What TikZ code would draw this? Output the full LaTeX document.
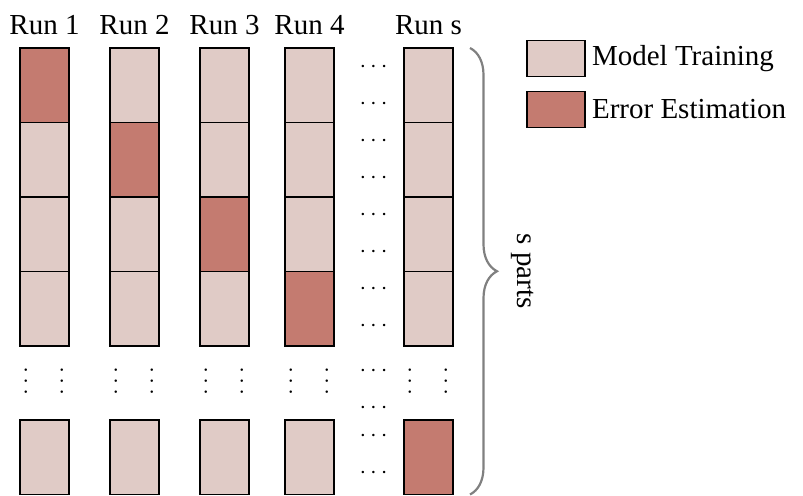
\documentclass[tikz,border=0pt]{standalone}
\usepackage{fontspec}
\setmainfont{Liberation Serif}
\usetikzlibrary{positioning, calc, decorations.pathreplacing}

\definecolor{trainred}{RGB}{224,203,198}
\definecolor{errred}{RGB}{196,123,112}

\begin{document}
\begin{tikzpicture}[
    x=0.5pt, y=0.5pt,
    font=\fontsize{14.5}{17}\selectfont,
    part/.style={draw, line width=0.9pt, fill=trainred,
                 outer sep=0pt, inner sep=0pt,
                 minimum width=24.5pt, minimum height=37.25pt},
    errpart/.style={part, fill=errred},
    key/.style={draw, line width=0.9pt, outer sep=0pt,
                minimum width=29pt, minimum height=18pt},
    hdots/.style={inner sep=0pt, font=\fontsize{12.5}{12.5}\selectfont},
    vdots/.style={hdots, rotate=90},
    sbrace/.style={decorate, decoration={brace, amplitude=13.5pt},
                   draw=black!50, line width=1.1pt}
]
\useasboundingbox (0,0) rectangle (803,495);

%---------------- Run 1 ----------------
\node[errpart] (p11) at (44.5,409.75) {};
\node[part, below=0pt of p11] (p12) {};
\node[part, below=0pt of p12] (p13) {};
\node[part, below=0pt of p13] (p14) {};
\node[part, below=37pt of p14] (p1s) {};
\node[above=3pt of p11] (run1) {Run 1};

%---------------- Run 2 ----------------
\node[part, right=20.5pt of p11] (p21) {};
\node[errpart, below=0pt of p21] (p22) {};
\node[part, below=0pt of p22] (p23) {};
\node[part, below=0pt of p23] (p24) {};
\node[part, below=37pt of p24] (p2s) {};
\node[above=3pt of p21] (run2) {Run 2};

%---------------- Run 3 ----------------
\node[part, right=20.5pt of p21] (p31) {};
\node[part, below=0pt of p31] (p32) {};
\node[errpart, below=0pt of p32] (p33) {};
\node[part, below=0pt of p33] (p34) {};
\node[part, below=37pt of p34] (p3s) {};
\node[above=3pt of p31] (run3) {Run 3};

%---------------- Run 4 ----------------
\node[part, right=18pt of p31] (p41) {};
\node[part, below=0pt of p41] (p42) {};
\node[part, below=0pt of p42] (p43) {};
\node[errpart, below=0pt of p43] (p44) {};
\node[part, below=37pt of p44] (p4s) {};
\node[above=3pt of p41] (run4) {Run 4};

%---------------- Run s ----------------
\node[part, right=35pt of p41] (ps1) {};
\node[part, below=0pt of ps1] (ps2) {};
\node[part, below=0pt of ps2] (ps3) {};
\node[part, below=0pt of ps3] (ps4) {};
\node[errpart, below=37pt of ps4] (pss) {};
\node[above=3pt of ps1] (runs) {Run s};

%---------------- skipped parts and runs ----------------
\node[vdots] (v1a) at (26.5,114) {$\cdots$};  \node[vdots] (v1b) at (62.5,114) {$\cdots$};
\node[vdots] (v2a) at (116.5,114) {$\cdots$}; \node[vdots] (v2b) at (152.5,114) {$\cdots$};
\node[vdots] (v3a) at (206.5,114) {$\cdots$}; \node[vdots] (v3b) at (242.5,114) {$\cdots$};
\node[vdots] (v4a) at (291.5,114) {$\cdots$}; \node[vdots] (v4b) at (327.5,114) {$\cdots$};
\node[vdots] (vsa) at (410.5,114) {$\cdots$}; \node[vdots] (vsb) at (446.5,114) {$\cdots$};

\node[hdots] (h1) at (373.5,428) {$\cdots$};  \node[hdots] (h2) at (373.5,391) {$\cdots$};
\node[hdots] (h3) at (373.5,354) {$\cdots$};  \node[hdots] (h4) at (373.5,317) {$\cdots$};
\node[hdots] (h5) at (373.5,280) {$\cdots$};  \node[hdots] (h6) at (373.5,243) {$\cdots$};
\node[hdots] (h7) at (373.5,206) {$\cdots$};  \node[hdots] (h8) at (373.5,169) {$\cdots$};
\node[hdots] (h9) at (373.5,124) {$\cdots$};  \node[hdots] (h10) at (373.5,87) {$\cdots$};
\node[hdots] (h11) at (373.5,59) {$\cdots$};  \node[hdots] (h12) at (373.5,22) {$\cdots$};

%---------------- brace over all parts ----------------
\coordinate (btop) at ($(ps1.north east)+(17,0)$);
\coordinate (bbot) at ($(pss.south east)+(17,0)$);
\draw[sbrace] (btop) -- (bbot);
\node[rotate=-90] (sparts) at ($(btop)!0.5!(bbot)+(53,0)$) {s parts};

%---------------- legend ----------------
\node[key, fill=trainred, label=right:Model Training] (keytrain) at (556,436.5) {};
\node[key, fill=errred, below=7.5pt of keytrain, label=right:Error Estimation] (keyerr) {};

\end{tikzpicture}
\end{document}
